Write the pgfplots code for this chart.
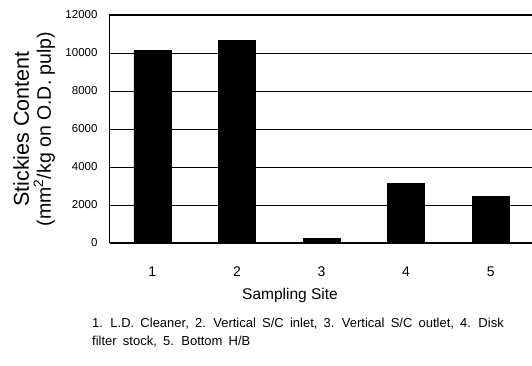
\documentclass[border=0pt]{standalone}
\usepackage{fontspec}
\setmainfont{Liberation Sans}
\usepackage{pgfplots}
\pgfplotsset{compat=1.18}
\newcommand\capfont{\fontsize{13}{17.5}\selectfont\spaceskip=6.2pt\relax}
\begin{document}
\begin{tikzpicture}
\begin{axis}[
  scale only axis, width=423pt, height=228pt,
  xmin=0.5, xmax=5.5, ymin=0, ymax=12000,
  ybar, bar width=37pt,
  xtick={1,2,3,4,5}, ytick={0,2000,4000,6000,8000,10000,12000},
  ymajorgrids, grid style={black, line width=0.6pt},
  major tick length=0pt,
  axis line style={line width=1pt},
  /pgf/number format/assume math mode=true,
  scaled y ticks=false,
  yticklabel style={font=\fontsize{11.5}{13}\selectfont, xshift=-9pt, /pgf/number format/1000 sep={}},
  xticklabel style={font=\fontsize{14}{16}\selectfont, yshift=-20pt},
  clip=false,
]
\addplot[fill=black, draw=black] coordinates {(1,10150) (2,10650) (3,250) (4,3150) (5,2470)};
\coordinate (bl) at (rel axis cs:0,0);
\end{axis}
\node[font=\fontsize{15.5}{18}\selectfont] at ([shift={(180pt,-52pt)}]bl) {Sampling Site};
\node[rotate=90, align=center, font=\fontsize{19.5}{22}\selectfont] at ([shift={(-76pt,114pt)}]bl) {{\fontsize{21.5}{22}\selectfont Stickies Content}\\(mm\textsuperscript{2}/kg on O.D. pulp)};
\node[anchor=north west, inner sep=0pt, align=left, font=\capfont] at ([shift={(-18pt,-75pt)}]bl) {\capfont 1. L.D. Cleaner, 2. Vertical S/C inlet, 3. Vertical S/C outlet, 4. Disk\\\capfont filter stock, 5. Bottom H/B};
\pgfresetboundingbox
\path (bl) ++(-110pt,-123pt) rectangle ++(532pt,366pt);
\end{tikzpicture}
\end{document}
